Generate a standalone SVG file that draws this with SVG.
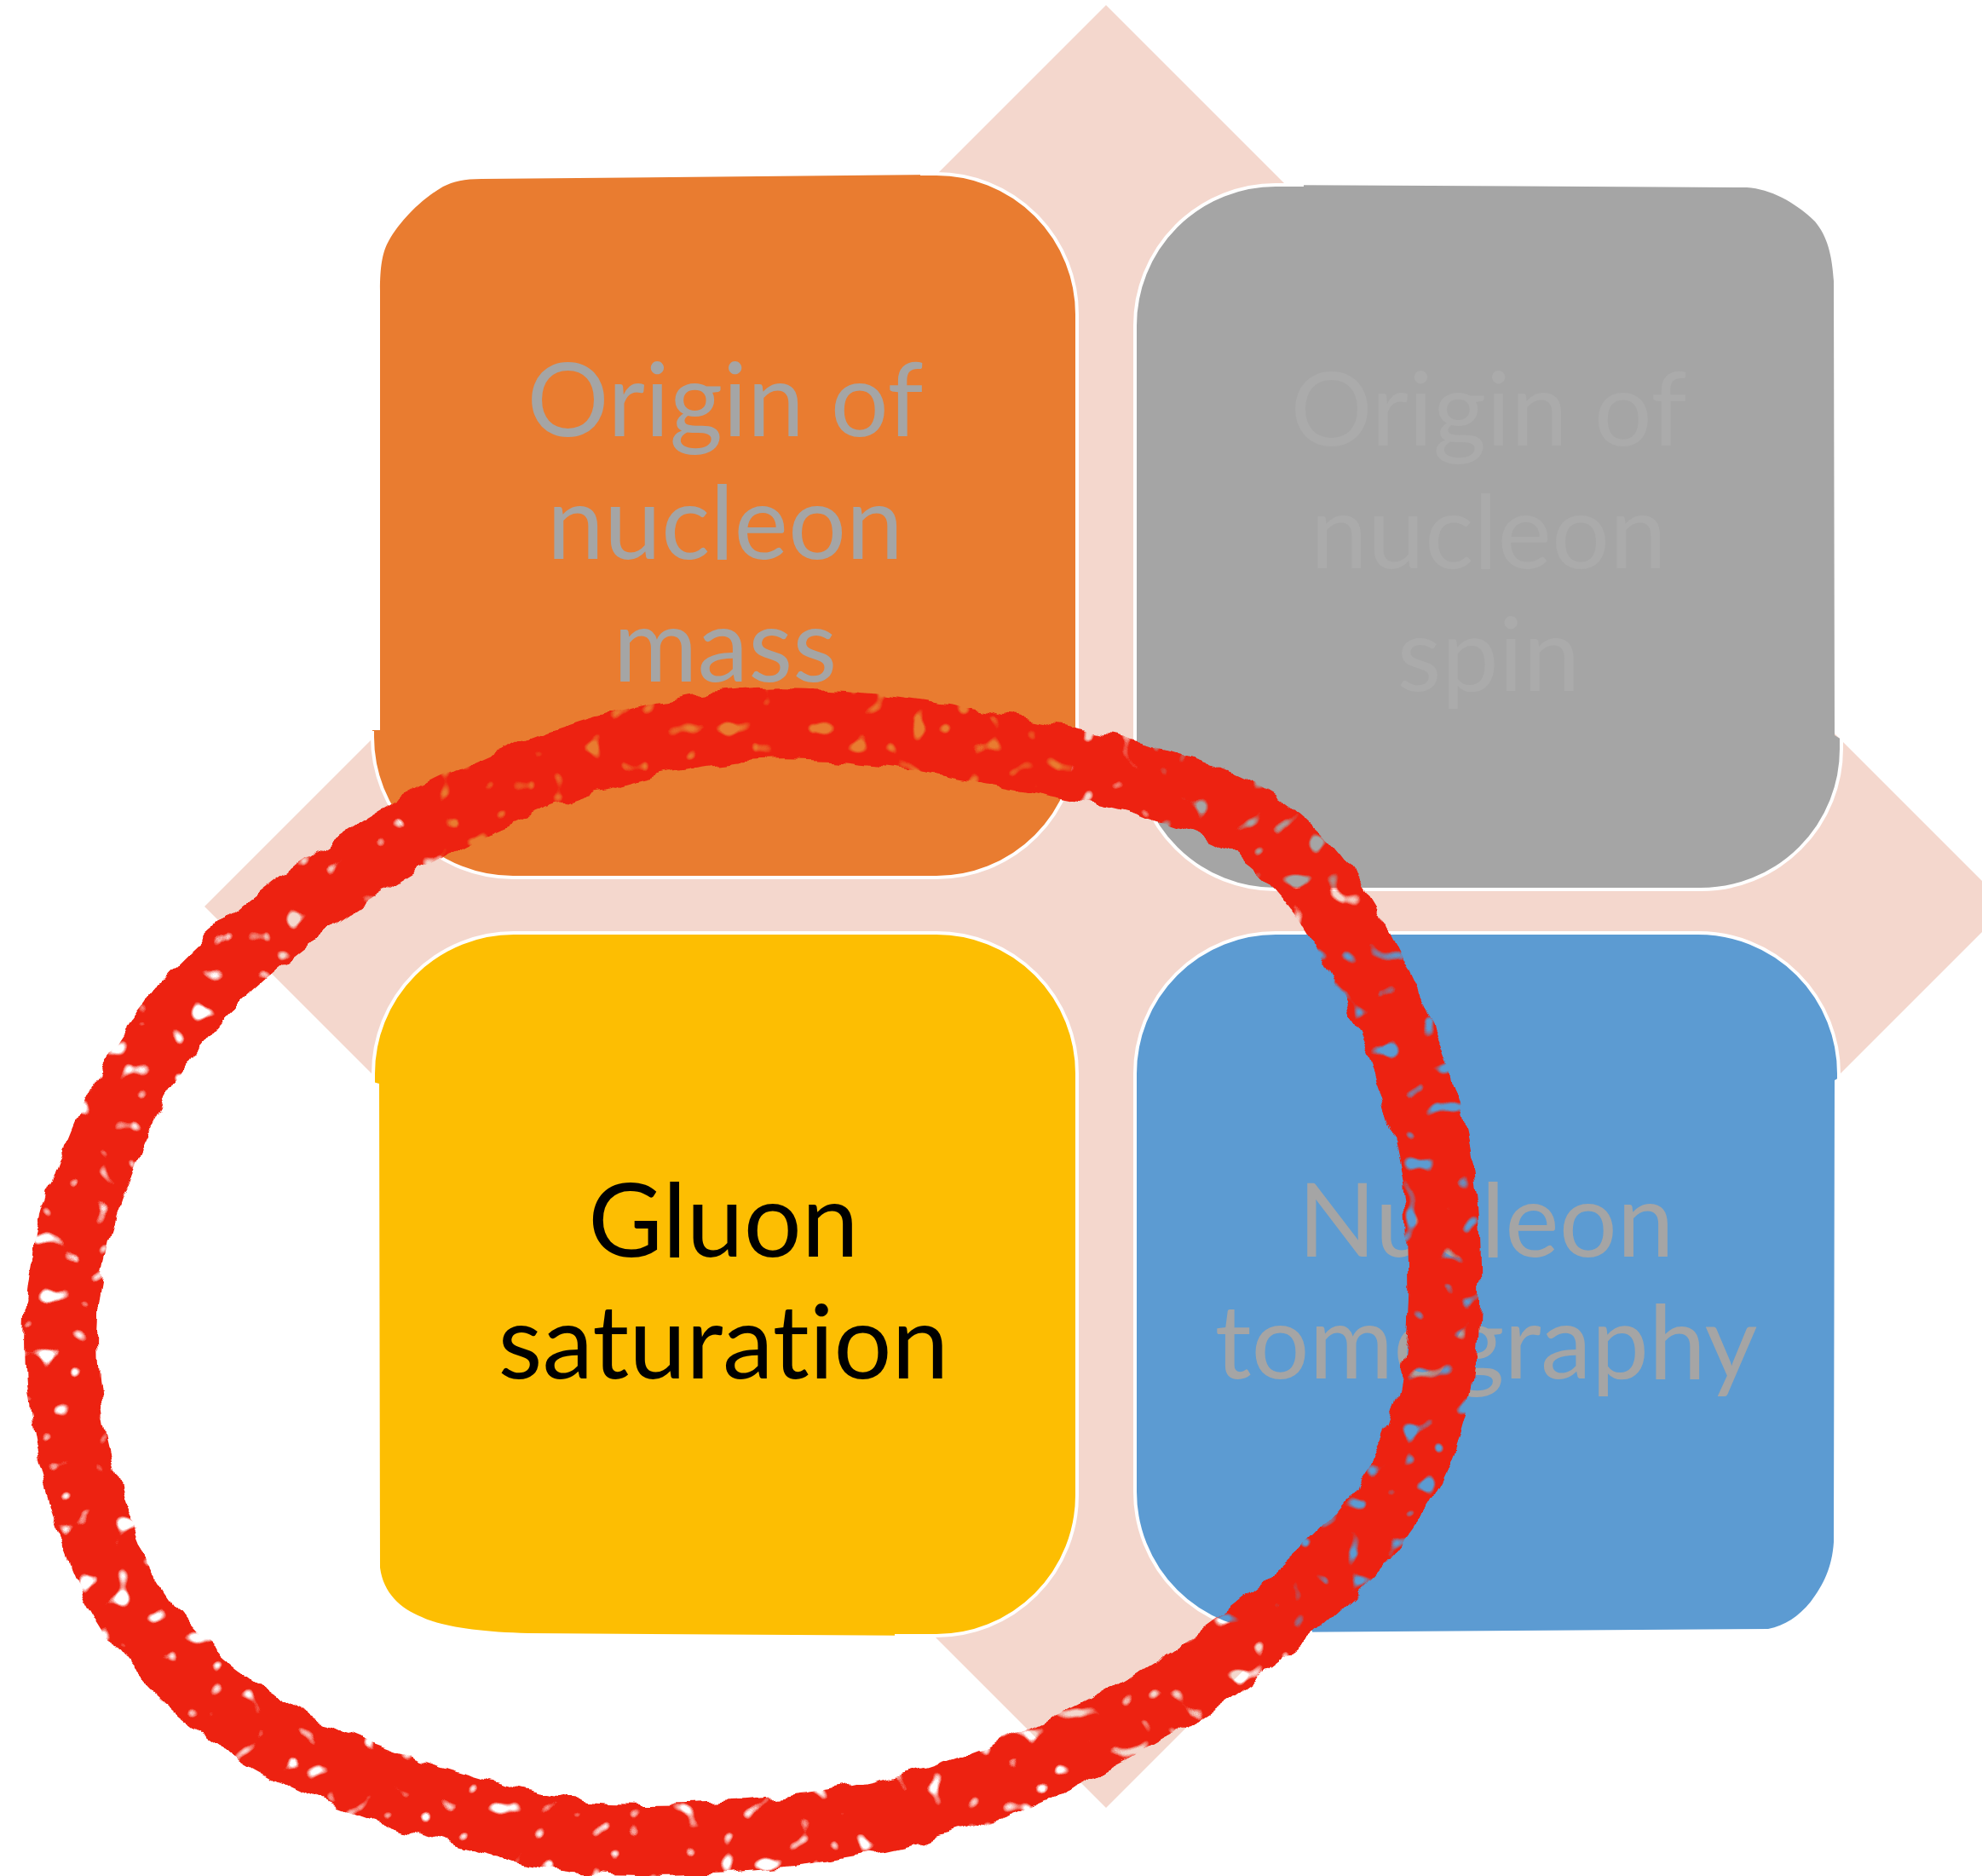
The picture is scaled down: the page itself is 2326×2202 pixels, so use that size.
<svg xmlns="http://www.w3.org/2000/svg" width="2326" height="2202" viewBox="0 0 2326 2202">
<defs>
<style>
.lbl{font-family:Lato,"Noto Sans","Liberation Sans",sans-serif;font-size:120px;text-anchor:middle;font-variant-ligatures:none;font-feature-settings:"liga" 0,"clig" 0}
.edge{fill:none;stroke:#FFFFFF;stroke-width:4}
</style>
<filter id="crayon" filterUnits="userSpaceOnUse" x="0" y="760" width="1800" height="1442" color-interpolation-filters="sRGB">
<feTurbulence type="fractalNoise" baseFrequency="0.03" numOctaves="2" seed="4" result="warp"/>
<feDisplacementMap in="SourceGraphic" in2="warp" scale="20" xChannelSelector="R" yChannelSelector="G" result="rough"/>
<feTurbulence type="fractalNoise" baseFrequency="0.045" numOctaves="1" seed="11" result="spots"/>
<feColorMatrix in="spots" type="matrix" values="0 0 0 0 0  0 0 0 0 0  0 0 0 0 0  12 0 0 0 -3.3" result="mask"/>
<feComposite in="rough" in2="mask" operator="in"/>
</filter>
</defs>
<rect x="0" y="0" width="2326" height="2202" fill="#FFFFFF"/>
<g id="background-diamond">
<polygon points="1298,6 2356,1064 1298,2122 240,1064" fill="#F4D7CD"/>
</g>
<g id="node-mass">
<path d="M446,857 L446,341 C446,312 449,298 454,287 C466,262 494,234 520,219 C532,213 545,210 565,210 L1099,205 A165,165 0 0 1 1264,370 L1264,865 A165,165 0 0 1 1099,1030 L602,1030 A165,165 0 0 1 437,865 L437,857 Z" fill="#E97C30"/>
<path class="edge" d="M1080,204 L1099,204 A165,165 0 0 1 1264,369 L1264,865 A165,165 0 0 1 1099,1030 L602,1030 A165,165 0 0 1 437,865 L437,858"/>
<text class="lbl" fill="#A5A5A5"><tspan x="851" y="512">Origin of</tspan><tspan x="851" y="656">nucleon</tspan><tspan x="851" y="800">mass</tspan></text>
</g>
<g id="node-spin">
<path d="M1332,382 A165,165 0 0 1 1497,217 L2050,220 C2080,222 2110,240 2130,260 C2145,278 2150,300 2152,330 L2153,863 L2161,868 L2161,879 A165,165 0 0 1 1996,1044 L1497,1044 A165,165 0 0 1 1332,879 Z" fill="#A5A5A5"/>
<path class="edge" d="M2161,866 L2161,879 A165,165 0 0 1 1996,1044 L1497,1044 A165,165 0 0 1 1332,879 L1332,382 A165,165 0 0 1 1497,217 L1530,217"/>
<text class="lbl" fill="#ABABAB"><tspan x="1747" y="523">Origin of</tspan><tspan x="1747" y="667">nucleon</tspan><tspan x="1747" y="811">spin</tspan></text>
</g>
<g id="node-saturation">
<path d="M438,1260 A165,165 0 0 1 603,1095 L1099,1095 A165,165 0 0 1 1264,1260 L1264,1755 A165,165 0 0 1 1099,1920 L620,1917 C560,1916 515,1908 495,1898 C470,1888 450,1870 446,1840 L445,1272 L438,1270 Z" fill="#FDBE02"/>
<path class="edge" d="M438,1271 L438,1260 A165,165 0 0 1 603,1095 L1099,1095 A165,165 0 0 1 1264,1260 L1264,1755 A165,165 0 0 1 1099,1920 L1050,1920"/>
<text class="lbl" fill="#000000"><tspan x="849" y="1475">Gluon</tspan><tspan x="849" y="1618">saturation</tspan></text>
</g>
<g id="node-tomography">
<path d="M1332,1260 A165,165 0 0 1 1497,1095 L1993,1095 A165,165 0 0 1 2158,1260 L2158,1265 L2153,1268 L2152,1810 C2150,1840 2140,1860 2125,1880 C2110,1898 2095,1908 2075,1912 L1497,1916 A165,165 0 0 1 1332,1751 Z" fill="#5C9BD2"/>
<path class="edge" d="M2158,1266 L2158,1260 A165,165 0 0 0 1993,1095 L1497,1095 A165,165 0 0 0 1332,1260 L1332,1751 A165,165 0 0 0 1497,1916 L1540,1916"/>
<text class="lbl" fill="#A5A5A5"><tspan x="1744" y="1475">Nucleon</tspan><tspan x="1744" y="1618">tomography</tspan></text>
</g>
<g id="connectors"></g>
<g id="highlight-ring">
<path filter="url(#crayon)" fill="none" stroke="#ED2211" stroke-width="84" stroke-linejoin="round" d="M860,853 C971.8,842 1100.2,865.7 1204,886 C1307.8,906.3 1412.8,926 1483,975 C1553.2,1024 1590,1104.2 1625,1180 C1660,1255.8 1688,1340 1693,1430 C1698,1520 1698.8,1633.3 1655,1720 C1611.2,1806.7 1522.5,1884.2 1430,1950 C1337.5,2015.8 1213.3,2080 1100,2115 C986.7,2150 850,2160.5 750,2160 C650,2159.5 576.7,2135.3 500,2112 C423.3,2088.7 349.2,2060.3 290,2020 C230.8,1979.7 181.2,1936.7 145,1870 C108.8,1803.3 79.7,1700 73,1620 C66.3,1540 77.2,1466.7 105,1390 C132.8,1313.3 168.7,1233 240,1160 C311.3,1087 429.7,1003.2 533,952 C636.3,900.8 748.2,864 860,853 Z"/>
</g>
</svg>
